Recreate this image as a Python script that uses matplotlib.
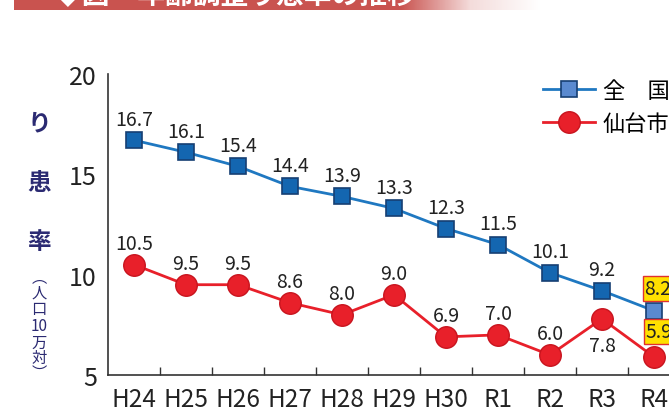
import numpy as np
import matplotlib
matplotlib.use("Agg")
import matplotlib.pyplot as plt
from matplotlib.lines import Line2D
from matplotlib.colors import LinearSegmentedColormap

plt.rcParams['font.family'] = ['Noto Sans CJK JP', 'DejaVu Sans']

categories = ["H24", "H25", "H26", "H27", "H28", "H29", "H30", "R1", "R2", "R3", "R4"]
national = [16.7, 16.1, 15.4, 14.4, 13.9, 13.3, 12.3, 11.5, 10.1, 9.2, 8.2]
sendai = [10.5, 9.5, 9.5, 8.6, 8.0, 9.0, 6.9, 7.0, 6.0, 7.8, 5.9]
yticks = [5, 10, 15, 20]
series_names = ["全　国", "仙台市"]

W, H = 669, 414
fig = plt.figure(figsize=(W / 100, H / 100), dpi=100)

# banner (cropped title bar)
bax = fig.add_axes([14 / W, (H - 11) / H, (W - 14) / W, 11 / H])
bax.set_xlim(0, W - 14)
bax.set_ylim(11, 0)
x = np.arange(W - 14) + 14
t = np.clip((x - 400) / 140.0, 0, 1)
cmap = LinearSegmentedColormap.from_list("b", ["#c9534f", "#f4dcdb", "#ffffff"])
bax.imshow(t[None, :], aspect='auto', cmap=cmap, extent=[0, W - 14, 11, 0], vmin=0, vmax=1)
bax.text(40, 4, "◆図　年齢調整り患率の推移", color="white", fontsize=20,
         fontweight='bold', va='baseline', ha='left', clip_on=True)
bax.axis('off')

ax = fig.add_axes([108 / W, (H - 376) / H, 572 / W, 301 / H])
xs = np.arange(len(categories))
blue_line = "#1f78c1"
blue_face = "#1466b0"
blue_edge = "#163f73"
red = "#e8202a"

ax.plot(xs, national, color=blue_line, lw=2, zorder=2)
ax.plot(xs[:-1], national[:-1], 's', ms=11, mfc=blue_face, mec=blue_edge, mew=1.2, zorder=3)
ax.plot(xs[-1:], national[-1:], 's', ms=11, mfc="#5a8ad0", mec=blue_edge, mew=1.2, zorder=3)
ax.plot(xs, sendai, color=red, lw=2, zorder=2)
ax.plot(xs, sendai, 'o', ms=15.5, mfc=red, mec="#c8141e", mew=1, zorder=3)

lab_fs = 14
for i, v in enumerate(national):
    if i == len(national) - 1:
        ax.annotate(f"{v:.1f}", (i, v), xytext=(4, 22), textcoords='offset pixels',
                    ha='center', va='center', fontsize=lab_fs, color='#222',
                    bbox=dict(boxstyle='square,pad=0.1', fc='#ffe000', ec='#e03030', lw=1))
    else:
        ax.annotate(f"{v:.1f}", (i, v), xytext=(0, 21), textcoords='offset pixels',
                    ha='center', va='center', fontsize=lab_fs, color='#222')
for i, v in enumerate(sendai):
    if i == len(sendai) - 1:
        ax.annotate(f"{v:.1f}", (i, v), xytext=(5, 25), textcoords='offset pixels',
                    ha='center', va='center', fontsize=lab_fs, color='#222',
                    bbox=dict(boxstyle='square,pad=0.1', fc='#ffe000', ec='#e03030', lw=1))
    elif i == 9:
        ax.annotate(f"{v:.1f}", (i, v), xytext=(0, -27), textcoords='offset pixels',
                    ha='center', va='center', fontsize=lab_fs, color='#222')
    else:
        ax.annotate(f"{v:.1f}", (i, v), xytext=(0, 21), textcoords='offset pixels',
                    ha='center', va='center', fontsize=lab_fs, color='#222')

ax.set_xlim(-0.5, 10.5)
ax.set_ylim(5, 20)
ax.set_yticks(yticks)
ax.set_yticklabels([str(v) for v in yticks], fontsize=18, color='#222')
ax.set_xticks(xs)
ax.set_xticklabels(categories, fontsize=17.5, color='#222')
ax.set_xticks(xs[:-1] + 0.5, minor=True)
ax.tick_params(axis='x', which='major', length=0, pad=8)
ax.tick_params(axis='x', which='minor', direction='in', length=6, width=1, color='#333')
ax.tick_params(axis='y', length=0, pad=8)
for s in ['top', 'right']:
    ax.spines[s].set_visible(False)
for s in ['left', 'bottom']:
    ax.spines[s].set_color('#333')
    ax.spines[s].set_linewidth(1.2)
ax.patch.set_alpha(0)

# legend
handles = [
    Line2D([0], [0], color=blue_line, lw=2, marker='s', ms=11, mfc="#5a8ad0", mec=blue_edge, mew=1.2),
    Line2D([0], [0], color=red, lw=2, marker='o', ms=15.5, mfc=red, mec="#c8141e", mew=1),
]
leg = fig.legend(handles, series_names, loc='upper left',
                 bbox_to_anchor=(543 / W, (H - 80) / H), frameon=False,
                 fontsize=16, handlelength=2.35, handletextpad=0.35,
                 labelspacing=0.45, borderpad=0, borderaxespad=0)

# y-axis label (vertical Japanese)
navy = "#2b2a72"
for ch, yy in [("り", 123), ("患", 183), ("率", 242)]:
    fig.text(39 / W, (H - yy) / H, ch, color=navy, fontsize=17, fontweight='bold',
             ha='center', va='center')
small = [("︵", 278), ("人", 293), ("口", 310), ("10", 327),
         ("万", 343), ("対", 358), ("︶", 373)]
for ch, yy in small:
    fig.text(39 / W, (H - yy) / H, ch, color=navy, fontsize=11,
             ha='center', va='center')

fig.savefig("out.png", dpi=100)
